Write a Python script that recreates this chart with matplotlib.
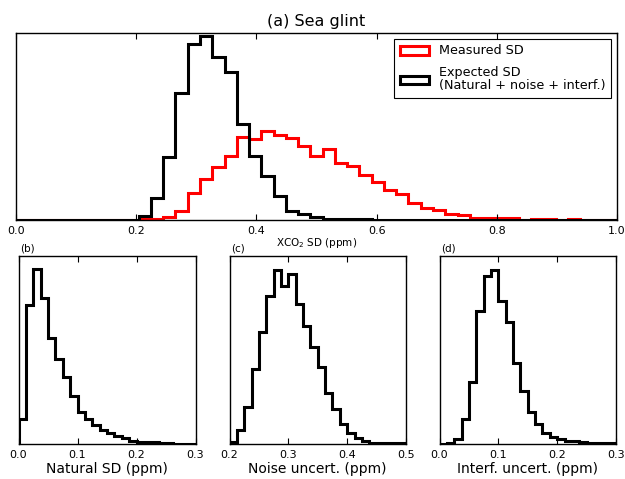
import numpy as np
import matplotlib
matplotlib.use("Agg")
import matplotlib.pyplot as plt
from matplotlib.patches import Rectangle

# ---- (a) Sea glint: XCO2 SD histograms (49 bins between 0 and 1 ppm) ----
sd_edges = np.linspace(0.0, 1.0, 50)
measured_sd_counts = [0, 0, 0, 0, 0, 0, 0, 0, 0, 0,
                      2, 3, 8, 28, 81, 122, 160, 193, 249, 242,
                      268, 254, 246, 221, 191, 214, 170, 163, 136, 115,
                      91, 77, 50, 37, 30, 17, 16, 6, 6, 6,
                      5, 1, 4, 2, 1, 2, 1, 1, 1]
expected_sd_counts = [0, 0, 0, 0, 0, 0, 0, 0, 0, 0,
                      12, 65, 190, 380, 528, 552, 490, 443, 287, 192,
                      132, 72, 27, 19, 8, 4, 3, 2, 2, 1,
                      1, 1, 0.5, 0.5, 0, 0, 0, 0, 0, 0,
                      0, 0, 0, 0, 0, 0, 0, 0, 0]

# ---- (b) natural SD ----
natural_edges = np.linspace(0.0, 0.3, 25)
natural_counts = [75, 417, 525, 440, 320, 255, 202, 145, 97, 75,
                  57, 42, 34, 24, 17, 9, 7, 6, 5, 4, 2, 1, 1, 1]

# ---- (c) noise uncertainty ----
noise_edges = np.linspace(0.2, 0.5, 25)
noise_counts = [7, 42, 110, 222, 330, 437, 514, 467, 502, 414,
                347, 287, 227, 152, 102, 59, 32, 19, 9, 4, 2, 2, 3, 3]

# ---- (d) interference uncertainty ----
interf_edges = np.linspace(0.0, 0.3, 25)
interf_counts = [1, 2, 15, 75, 185, 400, 505, 522, 430, 367,
                 242, 160, 95, 60, 33, 20, 15, 10, 8, 5, 4, 3, 3, 2]

W, H = 625, 479
fig = plt.figure(figsize=(W / 100, H / 100), dpi=100)
plt.rcParams["font.family"] = ["DejaVu Sans"]


def px_axes(left, top, right, bottom):
    return fig.add_axes([left / W, 1 - bottom / H, (right - left) / W, (bottom - top) / H])


def style_axes(ax, xlim, xticks, labelsize):
    ax.set_xlim(*xlim)
    ax.set_xticks(xticks)
    ax.set_xticklabels([f"{t:.1f}" for t in xticks])
    ax.set_yticks([])
    ax.tick_params(axis="x", direction="in", top=True, bottom=True,
                   length=4, width=0.8, labelsize=labelsize, pad=4)
    for s in ax.spines.values():
        s.set_linewidth(1.0)
        s.set_color("black")


LW = 2.2

# Top panel
ax = px_axes(16, 33, 617, 220)
ax.stairs(measured_sd_counts, sd_edges, color="#ff0000", lw=LW, baseline=0)
ax.stairs(expected_sd_counts, sd_edges, color="black", lw=LW, baseline=0)
ax.set_ylim(0, max(expected_sd_counts) * 187 / 184)
style_axes(ax, (0, 1), [0.0, 0.2, 0.4, 0.6, 0.8, 1.0], 8)
ax.set_xlabel("XCO$_2$ SD (ppm)", fontsize=7.5, labelpad=0)
ax.set_title("(a) Sea glint", fontsize=11.5, pad=5)

handles = [Rectangle((0, 0), 1, 1, facecolor="white", edgecolor="#ff0000", lw=2.2),
           Rectangle((0, 0), 1, 1, facecolor="white", edgecolor="black", lw=2.2)]
leg = ax.legend(handles, ["Measured SD", "Expected SD\n(Natural + noise + interf.)"],
                loc="upper right", fontsize=9.2, frameon=True, fancybox=False,
                edgecolor="black", framealpha=1, handlelength=2.3, handleheight=0.7,
                labelspacing=0.7, borderpad=0.45, handletextpad=0.75,
                borderaxespad=0.45)
leg.get_frame().set_linewidth(0.8)
for t in leg.get_texts():
    t.set_linespacing(1.0)

# Bottom panels
panels = [
    ((18.5, 256, 195.5, 444), natural_counts, natural_edges, (0.0, 0.3),
     [0.0, 0.1, 0.2, 0.3], "Natural SD (ppm)", "(b)", 565 / 525),
    ((229.5, 256, 406, 444), noise_counts, noise_edges, (0.2, 0.5),
     [0.2, 0.3, 0.4, 0.5], "Noise uncert. (ppm)", "(c)", 555 / 514),
    ((439.5, 256, 616, 444), interf_counts, interf_edges, (0.0, 0.3),
     [0.0, 0.1, 0.2, 0.3], "Interf. uncert. (ppm)", "(d)", 565 / 522),
]
for box, counts, edges, xlim, ticks, xlabel, tag, headroom in panels:
    a = px_axes(*box)
    a.stairs(counts, edges, color="black", lw=LW, baseline=0)
    a.set_ylim(0, max(counts) * headroom)
    style_axes(a, xlim, ticks, 8)
    a.set_xlabel(xlabel, fontsize=10, labelpad=2)
    a.text(0.01, 1.015, tag, transform=a.transAxes, fontsize=7.5,
           ha="left", va="bottom")

fig.savefig("out.png", dpi=100)
